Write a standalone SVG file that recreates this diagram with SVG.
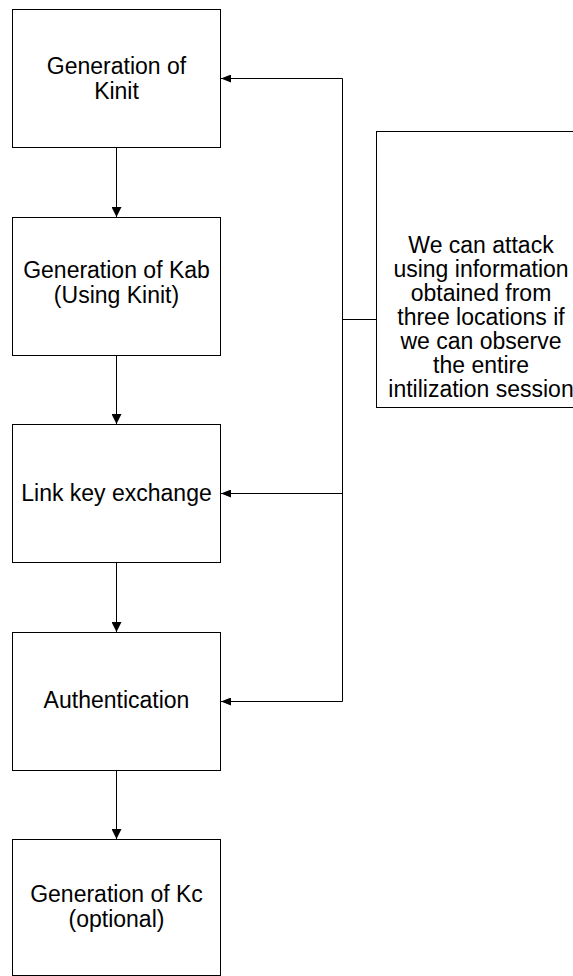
<svg xmlns="http://www.w3.org/2000/svg" width="573" height="976" viewBox="0 0 573 976">
<defs>
<style>
.box{fill:#fff;stroke:#000;stroke-width:1}
.t{font-family:"Liberation Sans",Arial,sans-serif;font-size:23px;fill:#000;text-anchor:middle}
.c{fill:none;stroke:#000;stroke-width:1}
</style>
<marker id="ad" markerWidth="10" markerHeight="10" refX="10" refY="5" orient="auto" markerUnits="userSpaceOnUse">
<path d="M0,0 L10,5 L0,10 Z" fill="#000"/>
</marker>
<marker id="al" markerWidth="10" markerHeight="8" refX="10" refY="4" orient="auto" markerUnits="userSpaceOnUse">
<path d="M0,0 L10,4 L0,8 Z" fill="#000"/>
</marker>
</defs>
<rect width="573" height="976" fill="#fff"/>
<g id="connectors">
<line class="c" x1="116.5" y1="147" x2="116.5" y2="217" marker-end="url(#ad)"/>
<line class="c" x1="116.5" y1="355" x2="116.5" y2="424" marker-end="url(#ad)"/>
<line class="c" x1="116.5" y1="562" x2="116.5" y2="632" marker-end="url(#ad)"/>
<line class="c" x1="116.5" y1="770" x2="116.5" y2="839" marker-end="url(#ad)"/>
<polyline class="c" points="342.5,78.5 342.5,701.5"/>
<line class="c" x1="342.5" y1="78.5" x2="221" y2="78.5" marker-end="url(#al)"/>
<line class="c" x1="342.5" y1="493.5" x2="221" y2="493.5" marker-end="url(#al)"/>
<line class="c" x1="342.5" y1="701.5" x2="221" y2="701.5" marker-end="url(#al)"/>
<line class="c" x1="342.5" y1="319.5" x2="376" y2="319.5"/>
</g>
<g id="n1">
<rect class="box" x="12.5" y="9.5" width="208" height="138"/>
<text class="t" x="116.5" y="74">Generation of</text>
<text class="t" x="116.5" y="99">Kinit</text>
</g>
<g id="n2">
<rect class="box" x="12.5" y="217.5" width="208" height="138"/>
<text class="t" x="116.5" y="278">Generation of Kab</text>
<text class="t" x="116.5" y="303">(Using Kinit)</text>
</g>
<g id="n3">
<rect class="box" x="12.5" y="424.5" width="208" height="138"/>
<text class="t" x="116.5" y="501">Link key exchange</text>
</g>
<g id="n4">
<rect class="box" x="12.5" y="632.5" width="208" height="138"/>
<text class="t" x="116.5" y="708">Authentication</text>
</g>
<g id="n5">
<rect class="box" x="12.5" y="839.5" width="208" height="136"/>
<text class="t" x="116.5" y="902">Generation of Kc</text>
<text class="t" x="116.5" y="927">(optional)</text>
</g>
<g id="n6">
<rect class="box" x="376.5" y="131.5" width="220" height="276"/>
<text class="t" x="481" y="253">We can attack</text>
<text class="t" x="481" y="277">using information</text>
<text class="t" x="481" y="301">obtained from</text>
<text class="t" x="481" y="325">three locations if</text>
<text class="t" x="481" y="349">we can observe</text>
<text class="t" x="481" y="373">the entire</text>
<text class="t" x="481" y="397">intilization session</text>
</g>
</svg>
